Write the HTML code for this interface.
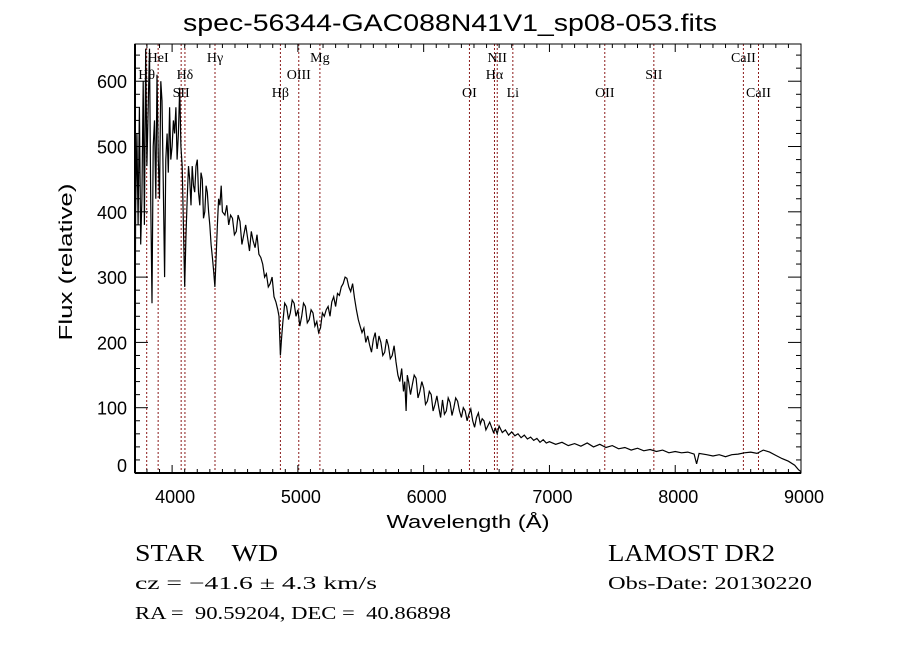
<!DOCTYPE html>
<html><head><meta charset="utf-8"><style>
html,body{margin:0;padding:0;background:#fff;}
svg{display:block;}
text{white-space:pre;}
.t{font-family:"Liberation Serif",serif;fill:#000;}
.s{font-family:"Liberation Sans",sans-serif;fill:#000;}
</style></head><body>
<svg id="chart" width="900" height="649" viewBox="0 0 900 649" xml:space="preserve">
<text class="s" x="450" y="31" font-size="24" text-anchor="middle" textLength="534" lengthAdjust="spacingAndGlyphs">spec-56344-GAC088N41V1_sp08-053.fits</text>
<g id="lines"></g>
<g id="ticks"></g>
<path id="spec" fill="none" stroke="#000" stroke-width="1.2" stroke-linejoin="miter"></path>
<rect x="135" y="44" width="666" height="429" fill="none" stroke="#000" stroke-width="1"></rect>
<line x1="135" y1="473" x2="801" y2="473" stroke="#000" stroke-width="2"></line>
<line x1="135" y1="44" x2="135" y2="473" stroke="#000" stroke-width="2"></line>
<text class="s" x="468" y="528" font-size="18" text-anchor="middle" textLength="163" lengthAdjust="spacingAndGlyphs">Wavelength (Å)</text>
<text class="s" transform="translate(72,262) rotate(-90)" font-size="18" text-anchor="middle" textLength="157" lengthAdjust="spacingAndGlyphs">Flux (relative)</text>
<text class="t" x="135" y="561" font-size="24" textLength="143" lengthAdjust="spacingAndGlyphs">STAR    WD</text>
<text class="t" x="608" y="561" font-size="24" textLength="167" lengthAdjust="spacingAndGlyphs">LAMOST DR2</text>
<text class="t" x="135" y="589" font-size="18" textLength="242" lengthAdjust="spacingAndGlyphs">cz = −41.6 ± 4.3 km/s</text>
<text class="t" x="608" y="589" font-size="18" textLength="204" lengthAdjust="spacingAndGlyphs">Obs-Date: 20130220</text>
<text class="t" x="135" y="619" font-size="18" textLength="316" lengthAdjust="spacingAndGlyphs">RA =  90.59204, DEC =  40.86898</text>
</svg>
<script>
const wavelengths=[3705,3710,3720,3730,3740,3750,3760,3770,3780,3790,3800,3810,3820,3830,3840,3850,3860,3870,3880,3890,3900,3910,3920,3930,3940,3950,3960,3970,3980,3990,4000,4010,4020,4030,4040,4050,4060,4070,4080,4090,4100,4110,4120,4130,4140,4150,4160,4170,4180,4190,4200,4210,4220,4230,4240,4250,4260,4270,4280,4290,4300,4310,4320,4330,4340,4350,4360,4370,4380,4390,4400,
4420,4435,4450,4465,4480,4495,4510,4525,4540,4555,4570,4585,4600,4615,4630,4645,4660,4675,4690,4705,4720,4735,4750,4765,4780,4795,4810,4825,4840,4850,4861,4870,4880,4895,4910,4925,4940,4955,4970,4985,5000,5015,5030,5045,5060,5075,5090,5105,5120,5135,5150,5165,5180,5195,5210,5225,5240,5255,5270,5285,5300,5315,5330,5345,5360,5375,5390,5405,5420,5435,5450,5465,5480,5495,5510,5525,5540,5555,5570,5585,5600,5615,5630,5645,5660,5675,5690,5705,5720,5735,5750,5765,5780,5795,5810,5825,5840,5850,5860,5870,5880,5895,5910,5925,5940,5955,5970,5985,6000,6015,6030,6045,6060,6075,6090,6105,6120,6135,6150,6165,6180,6195,6210,6225,6240,6255,6270,6285,6300,6315,6330,6345,6360,6375,6390,6405,6420,6435,6450,6465,6480,6495,6510,6525,6540,6555,6570,6585,6600,
6625,6650,6675,6700,6725,6750,6775,6800,6825,6850,6875,6900,6925,6950,6975,7000,7050,7100,7150,7200,7250,7300,7350,7400,7450,7500,7550,7600,7650,7700,7750,7800,7850,7900,7950,8000,8050,8100,8150,8170,8190,8250,8300,8350,8400,8450,8500,8550,8600,8650,8700,8750,8800,8850,8900,8950,8980,9000];
const fluxes=[150,400,520,380,560,350,420,600,380,650,470,560,650,420,260,500,540,420,610,480,420,600,570,440,300,480,520,460,560,480,500,540,520,560,480,520,590,500,470,380,285,360,420,470,450,410,470,440,430,470,480,430,410,460,450,390,400,440,430,400,380,350,330,310,285,330,380,420,410,440,400,
395,410,380,395,390,365,370,395,385,350,365,380,360,340,370,355,345,365,335,330,320,300,305,285,290,300,270,262,250,240,180,205,230,260,255,235,245,265,260,240,250,225,240,260,255,230,235,250,245,225,232,215,222,245,240,250,255,240,262,270,255,275,272,285,290,300,298,285,278,290,268,250,235,225,215,222,200,210,196,185,205,215,190,210,200,180,185,205,195,175,180,195,170,150,140,160,125,140,95,150,140,120,135,150,145,115,125,140,130,105,110,125,120,95,105,118,100,85,112,90,95,115,108,88,100,115,110,95,85,100,95,80,90,98,80,70,85,92,75,83,80,66,72,78,70,62,68,60,72,
62,66,58,63,57,60,54,58,52,55,50,53,47,51,46,48,44,47,42,45,41,46,40,44,39,42,37,39,35,38,34,36,33,35,31,33,31,32,29,14,30,28,26,28,25,28,29,31,32,30,35,32,27,22,18,12,5,2];
const lineWl=[3798,3889,4072,4102,4341,4861,5007,5175,6364,6563,6585,6709,7440,7830,8542,8662];
const lineLabels=["Hθ","HeI","SII","Hδ","Hγ","Hβ","OIII","Mg","OI","Hα","NII","Li","OII","SII","CaII","CaII"];
const lineRows=[2,1,3,2,1,3,2,1,3,2,1,3,3,2,1,3];
const xTicks=[4000,5000,6000,7000,8000,9000];
const yTicks=[0,100,200,300,400,500,600];
const X0=135,X1=801,Y0=473,Y1=44,XMIN=3705,XMAX=9000,YMIN=0,YMAX=657;
const NS="http://www.w3.org/2000/svg";
function xs(w){return X0+(w-XMIN)/(XMAX-XMIN)*(X1-X0);}
function ys(f){return Y0-(f-YMIN)/(YMAX-YMIN)*(Y0-Y1);}
function mk(tag,attrs,parent){const e=document.createElementNS(NS,tag);for(const k in attrs)e.setAttribute(k,attrs[k]);parent.appendChild(e);return e;}
let d="";
for(let i=0;i<wavelengths.length;i++){d+=(i?"L":"M")+xs(wavelengths[i]).toFixed(1)+","+Math.max(Y1,Math.min(Y0,ys(fluxes[i]))).toFixed(1);}
document.getElementById("spec").setAttribute("d",d);
const lg=document.getElementById("lines");
const rowY={1:62,2:79,3:97};
for(let i=0;i<lineWl.length;i++){
 const x=xs(lineWl[i]);
 const l=mk("line",{x1:x,y1:Y1,x2:x,y2:Y0,stroke:"#8b1a1a","stroke-width":1,"stroke-dasharray":"2,2"},lg);
 
 
 const t=mk("text",{x:x,y:rowY[lineRows[i]],"text-anchor":"middle","font-size":14,"class":"t"},lg);
 t.textContent=lineLabels[i];
 
 
}
const tg=document.getElementById("ticks");
for(let w=3800;w<=9000;w+=100){
 const x=xs(w);const major=(w%1000===0);const L=major?8:4;
 mk("line",{x1:x,y1:Y0,x2:x,y2:Y0-L,stroke:"#000"},tg);
 mk("line",{x1:x,y1:Y1,x2:x,y2:Y1+L,stroke:"#000"},tg);
}
for(const w of xTicks){
 const t=mk("text",{x:xs(w)+3,y:503,"text-anchor":"middle","font-size":18,"class":"s"},tg);
 t.textContent=w;
 
 
}
for(let f=0;f<=640;f+=20){
 const y=ys(f);const major=(f%100===0);const L=major?13:5;
 mk("line",{x1:X0,y1:y,x2:X0+L,y2:y,stroke:"#000"},tg);
 mk("line",{x1:X1,y1:y,x2:X1-L,y2:y,stroke:"#000"},tg);
}
for(const f of yTicks){
 const t=mk("text",{x:127,y:ys(f)+(f===0?-1:7),"text-anchor":"end","font-size":18,"class":"s"},tg);
 t.textContent=f;
 
 
}
</script>
</body></html>
